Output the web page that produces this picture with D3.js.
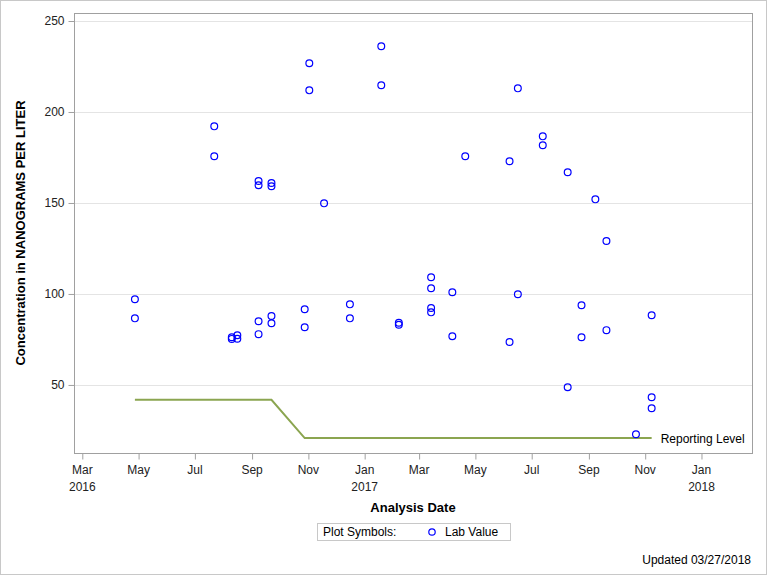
<!DOCTYPE html>
<html>
<head>
<meta charset="utf-8">
<script src="https://cdn.jsdelivr.net/npm/d3@7"></script>
<style>
  html, body { margin: 0; padding: 0; background: #fff; }
  svg { display: block; font-family: "Liberation Sans", Arial, sans-serif; }
</style>
</head>
<body>
<svg id="chart" width="768" height="576"></svg>
<script>
// ---- data ----
const labDates = [
  "2016-04-27","2016-04-27",
  "2016-07-22","2016-07-22",
  "2016-08-10","2016-08-10",
  "2016-08-16","2016-08-16",
  "2016-09-08","2016-09-08","2016-09-08","2016-09-08",
  "2016-09-22","2016-09-22","2016-09-22","2016-09-22",
  "2016-10-28","2016-10-28",
  "2016-11-02","2016-11-02",
  "2016-11-18",
  "2016-12-16","2016-12-16",
  "2017-01-19","2017-01-19",
  "2017-02-07","2017-02-07",
  "2017-03-14","2017-03-14","2017-03-14","2017-03-14",
  "2017-04-06","2017-04-06",
  "2017-04-20",
  "2017-06-07","2017-06-07",
  "2017-06-16","2017-06-16",
  "2017-07-13","2017-07-13",
  "2017-08-09","2017-08-09",
  "2017-08-24","2017-08-24",
  "2017-09-08",
  "2017-09-20","2017-09-20",
  "2017-10-22",
  "2017-11-08","2017-11-08","2017-11-08"
];
const labValues = [
  97.1, 86.6,
  192.1, 175.7,
  75.3, 76.2,
  77.3, 75.4,
  162.1, 159.7, 85.0, 77.9,
  161.0, 159.2, 87.9, 83.9,
  91.6, 81.7,
  226.8, 211.9,
  149.8,
  94.3, 86.6,
  236.1, 214.7,
  84.2, 83.1,
  109.2, 103.1, 92.3, 89.9,
  100.9, 76.8,
  175.7,
  73.6, 172.9,
  213.0, 99.8,
  186.6, 181.7,
  166.9, 48.7,
  93.8, 76.2,
  152.0,
  129.1, 80.1,
  22.9,
  88.3, 43.2, 37.2
];
const reportDates = ["2016-04-27","2016-09-22","2016-10-28","2017-11-08"];
const reportValues = [41.8, 41.8, 20.8, 20.8];
const yTicks = [50, 100, 150, 200, 250];
const xTickDates = ["2016-03-01","2016-05-01","2016-07-01","2016-09-01","2016-11-01","2017-01-01",
                    "2017-03-01","2017-05-01","2017-07-01","2017-09-01","2017-11-01","2018-01-01"];
const xTickMonths = ["Mar","May","Jul","Sep","Nov","Jan","Mar","May","Jul","Sep","Nov","Jan"];
const xTickYears  = ["2016","","","","","2017","","","","","","2018"];

// ---- layout ----
const svg = d3.select("#chart");
const W = 768, H = 576;
const L = 74, R = 752, T = 13, B = 453;
const parse = d3.utcParse("%Y-%m-%d");

const x = d3.scaleUtc()
  .domain([parse("2016-02-21"), new Date(Date.UTC(2018, 1, 24, 18))])
  .range([L, R]);
const y = d3.scaleLinear().domain([12.6, 254.4]).range([B, T]);

// outer border
svg.append("rect").attr("x", 0.5).attr("y", 0.5).attr("width", W - 2).attr("height", H - 2)
  .attr("fill", "#fff").attr("stroke", "#c8c8c8");

// gridlines
svg.append("g").selectAll("line").data(yTicks).join("line")
  .attr("x1", L).attr("x2", R)
  .attr("y1", d => Math.round(y(d)) + 0.5).attr("y2", d => Math.round(y(d)) + 0.5)
  .attr("stroke", "#e4e4e4").attr("stroke-width", 1);

// frame
svg.append("rect").attr("x", L + 0.5).attr("y", T + 0.5)
  .attr("width", R - L).attr("height", B - T)
  .attr("fill", "none").attr("stroke", "#a0a0a0");

// y axis
const yAxis = d3.axisLeft(y).tickValues(yTicks).tickSize(6).tickSizeOuter(0).tickPadding(4);
const gy = svg.append("g").attr("transform", `translate(${L + 0.5},0)`).call(yAxis);
gy.select(".domain").remove();
gy.selectAll(".tick line").attr("stroke", "#a0a0a0");
gy.selectAll(".tick text").attr("font-size", 12).attr("fill", "#222")
  .attr("font-family", "'Liberation Sans', Arial, sans-serif");

// x axis
const xAxis = d3.axisBottom(x).tickValues(xTickDates.map(parse)).tickSize(6).tickSizeOuter(0)
  .tickFormat(() => "");
const gx = svg.append("g").attr("transform", `translate(0,${B + 0.5})`).call(xAxis);
gx.select(".domain").remove();
gx.selectAll(".tick line").attr("stroke", "#a0a0a0");
const xl = svg.append("g").attr("font-size", 12).attr("fill", "#222").attr("text-anchor", "middle");
xTickDates.forEach((d, i) => {
  xl.append("text").attr("x", x(parse(d))).attr("y", 474).text(xTickMonths[i]);
  if (xTickYears[i]) xl.append("text").attr("x", x(parse(d))).attr("y", 491).text(xTickYears[i]);
});

// axis titles
svg.append("text").attr("x", (L + R) / 2).attr("y", 512).attr("text-anchor", "middle")
  .attr("font-size", 13).attr("font-weight", "bold").attr("fill", "#000").text("Analysis Date");
svg.append("text").attr("transform", `translate(25,${(T + B) / 2}) rotate(-90)`)
  .attr("text-anchor", "middle").attr("font-size", 13).attr("font-weight", "bold").attr("fill", "#000")
  .text("Concentration in NANOGRAMS PER LITER");

// reporting level line
const line = d3.line().x(d => x(d[0])).y(d => y(d[1]));
const repData = reportDates.map((d, i) => [parse(d), reportValues[i]]);
svg.append("path").datum(repData).attr("d", line)
  .attr("fill", "none").attr("stroke", "#8ba550").attr("stroke-width", 2);
svg.append("text").attr("x", x(repData[repData.length - 1][0]) + 9)
  .attr("y", y(repData[repData.length - 1][1]) + 5)
  .attr("font-size", 12).attr("fill", "#000").text("Reporting Level");

// points
const pts = labDates.map((d, i) => [parse(d), labValues[i]]);
svg.append("g").selectAll("circle").data(pts).join("circle")
  .attr("cx", d => x(d[0])).attr("cy", d => y(d[1])).attr("r", 3.4)
  .attr("fill", "none").attr("stroke", "#0000ff").attr("stroke-width", 1.2);

// legend
const lg = svg.append("g");
lg.append("rect").attr("x", 317.5).attr("y", 523.5).attr("width", 193).attr("height", 17)
  .attr("fill", "#fff").attr("stroke", "#c8c8c8");
lg.append("text").attr("x", 323).attr("y", 536).attr("font-size", 12).attr("fill", "#000").text("Plot Symbols:");
lg.append("circle").attr("cx", 432).attr("cy", 532).attr("r", 3.2)
  .attr("fill", "none").attr("stroke", "#0000ff").attr("stroke-width", 1.2);
lg.append("text").attr("x", 445).attr("y", 536).attr("font-size", 12).attr("fill", "#000").text("Lab Value");

// footnote
svg.append("text").attr("x", 751).attr("y", 564).attr("text-anchor", "end")
  .attr("font-size", 12).attr("fill", "#000").text("Updated 03/27/2018");
</script>
</body>
</html>
